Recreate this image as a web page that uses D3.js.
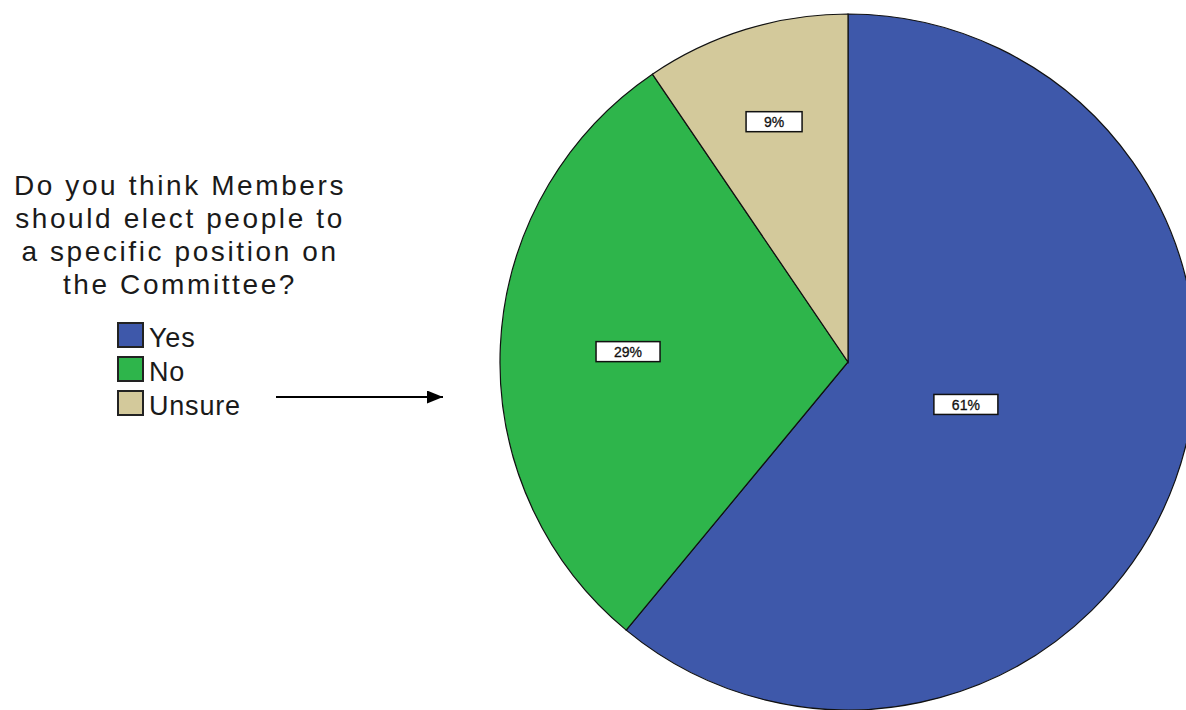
<!DOCTYPE html>
<html>
<head>
<meta charset="utf-8">
<script src="https://cdn.jsdelivr.net/npm/d3@7"></script>
<style>
  body { margin: 0; background: #fff; }
  svg { display: block; }
  text { font-family: "Liberation Sans", Arial, sans-serif; fill: #1a1a1a; }
</style>
</head>
<body>
<svg></svg>
<script>
// data
const categories = ["Yes", "No", "Unsure"]
const values = [61.0, 29.5, 9.5]
const pctLabels = ["61%", "29%", "9%"]
const colors = ["#3e58aa", "#2eb54b", "#d3c99b"]
const titleLines = ["Do you think Members", "should elect people to", "a specific position on", "the Committee?"]

let width = 1186
let height = 710

let cx = 848
let cy = 362
let radius = 348

let svg = d3.select("svg")
    .attr("width", width)
    .attr("height", height)

// pie
let pie = d3.pie().sort(null).value((d) => d)
let arcs = pie(values)

let arc = d3.arc()
    .innerRadius(0)
    .outerRadius(radius)

let colorScale = d3.scaleOrdinal()
    .domain(categories)
    .range(colors)

let pieG = svg.append("g")
    .attr("transform", "translate(" + cx + "," + cy + ")")

pieG.selectAll("path")
    .data(arcs)
    .enter()
    .append("path")
    .attr("d", arc)
    .attr("fill", (d, i) => colorScale(categories[i]))
    .attr("stroke", "#111")
    .attr("stroke-width", 1.2)

// labels sit near the centroid of each sector
let labelPos = (d) => {
    let half = (d.endAngle - d.startAngle) / 2
    let mid = d.startAngle + half
    let r = 2 * radius * Math.sin(half) / (3 * half) * 1.1
    return [Math.sin(mid) * r, -Math.cos(mid) * r]
}

let labels = pieG.selectAll("g.lbl")
    .data(arcs)
    .enter()
    .append("g")
    .attr("class", "lbl")
    .attr("transform", (d) => "translate(" + labelPos(d) + ")")

labels.append("rect")
    .attr("x", (d, i) => pctLabels[i].length > 2 ? -32 : -28)
    .attr("y", -10)
    .attr("width", (d, i) => pctLabels[i].length > 2 ? 64 : 56)
    .attr("height", 20)
    .attr("fill", "#fff")
    .attr("stroke", "#111")
    .attr("stroke-width", 1.5)

labels.append("text")
    .attr("text-anchor", "middle")
    .attr("dy", "0.38em")
    .style("font-size", "14px")
    .style("fill", "#111")
    .style("stroke", "#111")
    .style("stroke-width", 0.3)
    .text((d, i) => pctLabels[i])

// title
svg.selectAll("text.title")
    .data(titleLines)
    .enter()
    .append("text")
    .attr("class", "title")
    .attr("x", 180)
    .attr("y", (d, i) => 195 + i * 33)
    .attr("text-anchor", "middle")
    .style("font-size", "28px")
    .style("letter-spacing", "2.6px")
    .text((d) => d)

// legend
let legendY = d3.scaleBand()
    .domain(categories)
    .range([323, 425])

let legend = svg.selectAll("g.leg")
    .data(categories)
    .enter()
    .append("g")
    .attr("class", "leg")
    .attr("transform", (d) => "translate(118," + legendY(d) + ")")

legend.append("rect")
    .attr("width", 25)
    .attr("height", 24)
    .attr("fill", (d) => colorScale(d))
    .attr("stroke", "#222")
    .attr("stroke-width", 2)

legend.append("text")
    .attr("x", 31)
    .attr("y", 24)
    .style("font-size", "27px")
    .style("letter-spacing", "0.8px")
    .text((d) => d)

// arrow
let defs = svg.append("defs")
defs.append("marker")
    .attr("id", "arrowhead")
    .attr("viewBox", "0 0 16 13")
    .attr("refX", 16)
    .attr("refY", 6.5)
    .attr("markerWidth", 16)
    .attr("markerHeight", 13)
    .attr("markerUnits", "userSpaceOnUse")
    .attr("orient", "auto")
    .append("path")
    .attr("d", "M0,0 L16,6.5 L0,13 Z")
    .attr("fill", "#000")

svg.append("line")
    .attr("x1", 276)
    .attr("y1", 397)
    .attr("x2", 443)
    .attr("y2", 397)
    .attr("stroke", "#000")
    .attr("stroke-width", 2)
    .attr("marker-end", "url(#arrowhead)")
</script>
</body>
</html>
